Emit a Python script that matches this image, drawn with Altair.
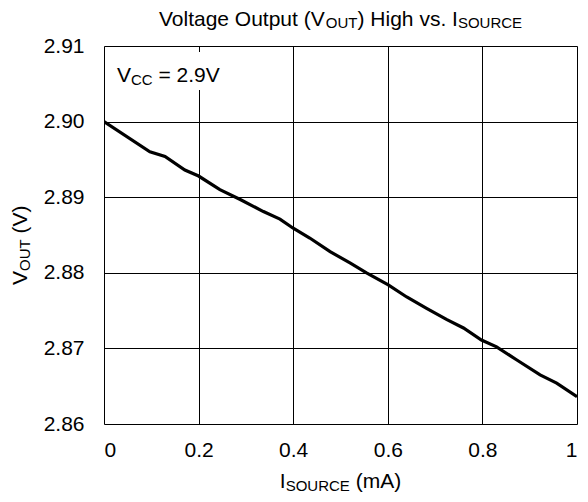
import altair as alt
import pandas as pd

# Data
i_source = [0.0, 0.097, 0.129, 0.171, 0.2, 0.245, 0.288, 0.337, 0.372, 0.4, 0.435,
            0.478, 0.52, 0.555, 0.601, 0.64, 0.682, 0.725, 0.76, 0.798, 0.83,
            0.872, 0.922, 0.957, 1.0]
v_out = [2.9000, 2.8960, 2.8954, 2.8936, 2.8928, 2.8910, 2.8897, 2.8881, 2.8871, 2.8859, 2.8846,
         2.8828, 2.8813, 2.8800, 2.8784, 2.8768, 2.8753, 2.8738, 2.8727, 2.8711, 2.8702,
         2.8685, 2.8665, 2.8654, 2.8636]
x_ticks = [0, 0.2, 0.4, 0.6, 0.8, 1.0]
y_ticks = [2.86, 2.87, 2.88, 2.89, 2.90, 2.91]

W, H = 473, 378
FONT = "Liberation Sans"
F = 21
SUB = 15

# Arial / Liberation Sans advance widths (per 1000 em)
AW = {' ': 278, '(': 333, ')': 333, '.': 278, '=': 584, 'A': 667, 'C': 722, 'E': 667,
      'H': 722, 'I': 278, 'O': 778, 'R': 722, 'S': 667, 'T': 611, 'U': 722, 'V': 667,
      'a': 556, 'e': 556, 'g': 556, 'h': 556, 'i': 222, 'l': 222, 'm': 833, 'o': 556,
      'p': 556, 's': 500, 't': 278, 'u': 556, 'v': 500}
for d in '0123456789':
    AW[d] = 556


def tw(s, size):
    return sum(AW.get(c, 556) for c in s) * size / 1000.0


one = pd.DataFrame({"k": [0]})


def rich(parts, x, y, anchor="left", rotated=False):
    """parts: list of (text, size, drop). Returns list of text layers."""
    total = sum(tw(t, s) for t, s, _ in parts)
    pos = -total / 2 if anchor == "center" else 0.0
    layers = []
    for t, s, drop in parts:
        lead = len(t) - len(t.lstrip(' '))
        start = pos + tw(' ' * lead, s)
        body = t.strip(' ')
        if rotated:
            px, py = x + drop, y - start
        else:
            px, py = x + start, y + drop
        layers.append(
            alt.Chart(one).mark_text(text=body, font=FONT, fontSize=s, align="left",
                                     baseline="alphabetic", angle=(270 if rotated else 0),
                                     color="black")
            .encode(x=alt.value(px), y=alt.value(py))
        )
        pos += tw(t, s)
    return layers


df = pd.DataFrame({"i": i_source, "v": v_out})

xscale = alt.Scale(domain=[0, 1], nice=False, zero=False)
yscale = alt.Scale(domain=[2.86, 2.91], nice=False, zero=False)

line = alt.Chart(df).mark_line(color="black", strokeWidth=3.2, clip=True).encode(
    x=alt.X("i:Q", scale=xscale,
            axis=alt.Axis(values=x_ticks, format="~g", title=None, grid=True,
                          ticks=False, domain=False, labelPadding=15,
                          labelFont=FONT, labelFontSize=F, labelColor="black",
                          gridColor="black", gridOpacity=1, gridWidth=1)),
    y=alt.Y("v:Q", scale=yscale,
            axis=alt.Axis(values=y_ticks, format=".2f", title=None, grid=True,
                          ticks=False, domain=False, labelPadding=20,
                          labelFont=FONT, labelFontSize=F, labelColor="black",
                          gridColor="black", gridOpacity=1, gridWidth=1)),
)

box = alt.Chart(one).mark_rect(color="white").encode(
    x=alt.value(10), x2=alt.value(118), y=alt.value(6), y2=alt.value(44)
)

layers = [box, line]
# VCC annotation
layers += rich([("V", F, 0), ("CC", SUB, 3), (" = 2.9V", F, 0)], 13, 36)
# Title
layers += rich([("Voltage Output (V", F, 0), ("OUT", SUB, 2), (") High vs. I", F, 0),
                ("SOURCE", SUB, 2)], W / 2, -20, anchor="center")
# X axis title
layers += rich([("I", F, 0), ("SOURCE", SUB, 3), (" (mA)", F, 0)], W / 2, 442, anchor="center")
# Y axis title (rotated, reads upward)
layers += rich([("V", F, 0), ("OUT", SUB, 3), (" (V)", F, 0)], -77, 239, rotated=True)

chart = alt.layer(*layers).properties(
    width=W, height=H,
    autosize=alt.AutoSizeParams(type="none"),
    padding={"left": 96, "top": 38, "right": 3, "bottom": 70},
).configure_view(stroke="black", strokeWidth=2.5).configure(background="white")

chart.save("out.html", embed_options={"renderer": "svg", "actions": False})
